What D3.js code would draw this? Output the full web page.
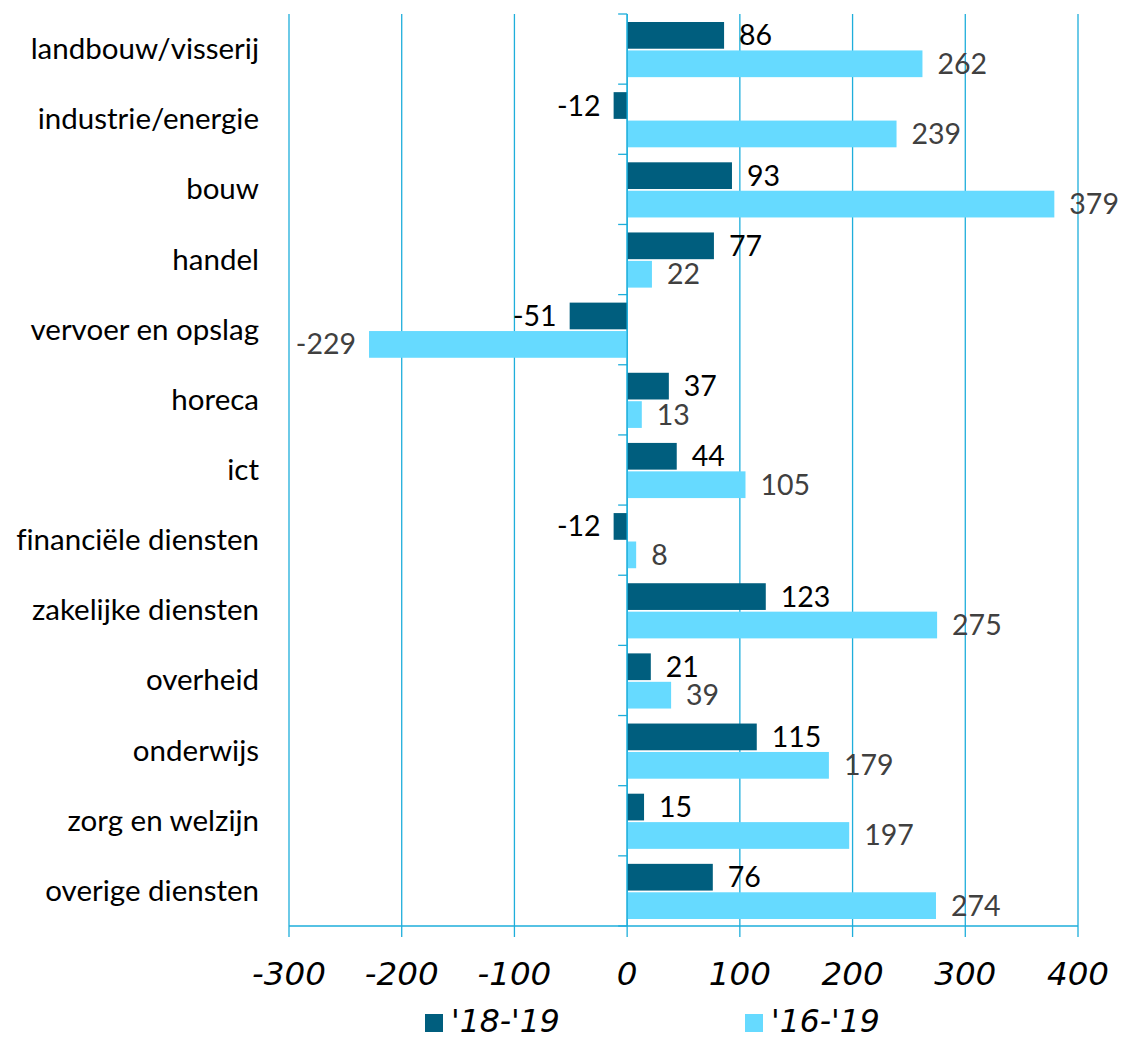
<!DOCTYPE html>
<html><head><meta charset="utf-8">
<script src="https://cdn.jsdelivr.net/npm/d3@7"></script>
<style>body{margin:0;background:#fff}svg{display:block}text{font-variant-ligatures:none;font-feature-settings:"liga" 0}</style>
</head><body><div id="c"></div>
<script>
const categories = ["landbouw/visserij","industrie/energie","bouw","handel","vervoer en opslag","horeca","ict","financiële diensten","zakelijke diensten","overheid","onderwijs","zorg en welzijn","overige diensten"];
const series1 = [86,-12,93,77,-51,37,44,-12,123,21,115,15,76];
const series2 = [262,239,379,22,-229,13,105,8,275,39,179,197,274];
const seriesNames = ["'18-'19","'16-'19"];
const xTicks = [-300,-200,-100,0,100,200,300,400];

const W=1122,H=1041;
const svg=d3.select("#c").append("svg").attr("width",W).attr("height",H);
const x=d3.scaleLinear().domain([-300,400]).range([289,1078]);
const y=d3.scaleBand().domain(categories).range([14,926]);
const inner=d3.scaleBand().domain([0,1]).range([8,y.bandwidth()-7]).paddingInner(0.06);
const grid="#1EAEDB";
const colors=["#005E7E","#66DAFF"];
const labelFont="Lato, 'Open Sans', sans-serif";

// gridlines
svg.append("g").selectAll("line").data(xTicks).join("line")
  .attr("x1",d=>x(d)).attr("x2",d=>x(d)).attr("y1",14).attr("y2",937)
  .attr("stroke",grid).attr("stroke-width",1.3);
// bottom axis
svg.append("line").attr("x1",x(-300)).attr("x2",x(400)).attr("y1",926).attr("y2",926).attr("stroke",grid).attr("stroke-width",1.3);
svg.append("g").selectAll("text").data(xTicks).join("text")
  .attr("x",d=>x(d)).attr("y",985).attr("text-anchor","middle")
  .attr("font-family","'DejaVu Sans', Verdana, sans-serif").attr("font-style","italic")
  .attr("font-size",32.5).attr("fill","#000").text(d=>d);

// category ticks at zero axis
const bounds=categories.map(c=>y(c)).concat([926]);
svg.append("g").selectAll("line").data(bounds).join("line")
  .attr("x1",x(0)-9).attr("x2",x(0)).attr("y1",d=>d).attr("y2",d=>d)
  .attr("stroke",grid).attr("stroke-width",1.3);

// category labels
svg.append("g").selectAll("text").data(categories).join("text")
  .attr("x",259).attr("y",d=>y(d)+y.bandwidth()/2+10).attr("text-anchor","end")
  .attr("font-family",labelFont).attr("font-size",29.5).attr("fill","#000").text(d=>d);

const allSeries=[series1,series2];
allSeries.forEach((s,i)=>{
  const g=svg.append("g");
  g.selectAll("rect").data(s).join("rect")
    .attr("x",d=>x(Math.min(0,d))).attr("width",d=>Math.abs(x(d)-x(0)))
    .attr("y",(d,j)=>y(categories[j])+inner(i)).attr("height",inner.bandwidth())
    .attr("fill",colors[i]);
  g.selectAll("text").data(s).join("text")
    .attr("x",d=>d>=0? x(d)+15 : x(d)-13)
    .attr("y",(d,j)=>y(categories[j])+inner(i)+inner.bandwidth()/2+10)
    .attr("text-anchor",d=>d>=0?"start":"end")
    .attr("font-family",labelFont).attr("font-size",28.5)
    .attr("fill",i===0?"#000":"#404040").text(d=>d);
});
// zero axis line
svg.append("line").attr("x1",x(0)).attr("x2",x(0)).attr("y1",14).attr("y2",926).attr("stroke",grid).attr("stroke-width",1.3);

// legend
const lg=svg.append("g");
const lx=[425,745];
seriesNames.forEach((n,i)=>{
  lg.append("rect").attr("x",lx[i]).attr("y",1014).attr("width",18).attr("height",18).attr("fill",colors[i]);
  lg.append("text").attr("x",lx[i]+26).attr("y",1032).attr("font-family","'DejaVu Sans', Verdana, sans-serif")
    .attr("font-style","italic").attr("font-size",31.5).attr("fill","#000").text(n);
});
</script></body></html>
